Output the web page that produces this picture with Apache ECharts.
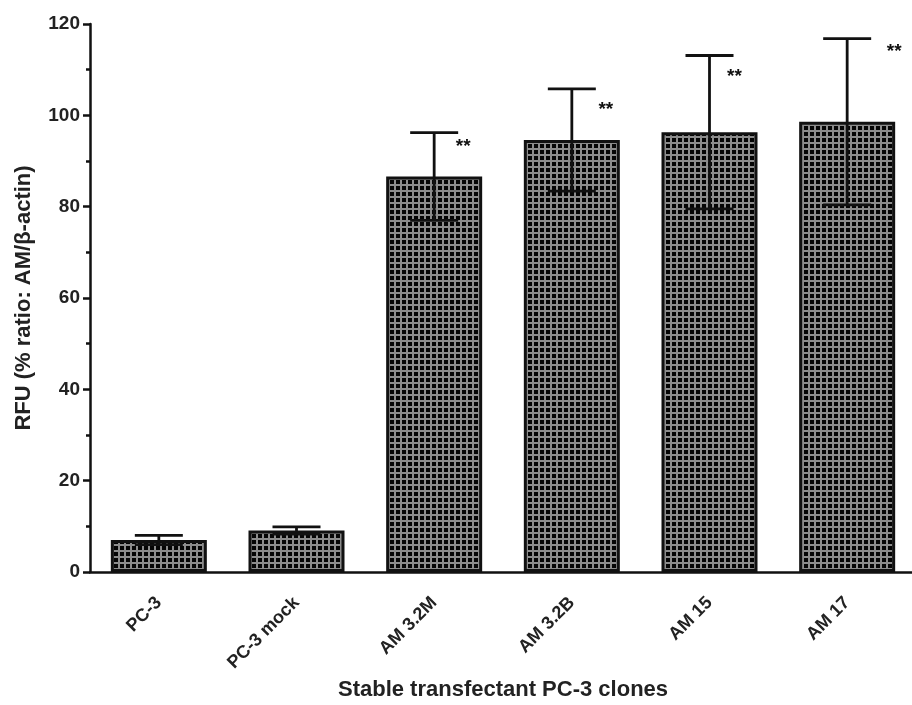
<!DOCTYPE html>
<html><head><meta charset="utf-8">
<script src="https://cdn.jsdelivr.net/npm/echarts@6/dist/echarts.min.js"></script>
<style>html,body{margin:0;padding:0;background:#fff}#c{width:912px;height:705px}</style>
</head><body><div id="c"></div>
<script>
var categories = ['PC-3', 'PC-3 mock', 'AM 3.2M', 'AM 3.2B', 'AM 15', 'AM 17'];
var means = [7.0, 9.1, 86.6, 94.6, 96.3, 98.6];
var errors = [1.0, 0.8, 9.6, 11.2, 16.8, 18.2];
var starLabels = ['', '', '**', '**', '**', '**'];
var starValues = [null, null, 93.1, 101.2, 108.4, 113.9];
var starOffsets = [0, 0, 29, 34, 25, 47];
var yTicks = [0, 20, 40, 60, 80, 100, 120];

var pc = document.createElement('canvas');
pc.width = 6; pc.height = 6;
var g = pc.getContext('2d');
g.fillStyle = '#8c8c8c'; g.fillRect(0, 0, 6, 6);
g.fillStyle = '#050505'; g.fillRect(0, 0, 4, 4);

var errData = categories.map(function (c, i) { return [i, means[i] - errors[i], means[i] + errors[i]]; });
var starData = categories.map(function (c, i) { return [i, starValues[i], starOffsets[i], starLabels[i]]; }).filter(function (d) { return d[3]; });

var font = '"Liberation Sans", Arial, sans-serif';
var chart = echarts.init(document.getElementById('c'), null, {renderer: 'canvas'});
chart.setOption({
  animation: false,
  grid: {left: 90, top: 24, width: 826, bottom: 133, containLabel: false, outerBoundsMode: 'none'},
  xAxis: {
    type: 'category', data: categories,
    name: 'Stable transfectant PC-3 clones', nameLocation: 'middle', nameGap: 107,
    nameTextStyle: {fontFamily: font, fontWeight: 'bold', fontSize: 22, color: '#222'},
    axisLine: {lineStyle: {color: '#111', width: 2.5}},
    axisTick: {alignWithLabel: true, length: 9, lineStyle: {color: '#111', width: 2.5}},
    axisLabel: {rotate: 45, margin: 28, fontFamily: font, fontWeight: 'bold', fontSize: 18, color: '#222'}
  },
  yAxis: {
    type: 'value', min: 0, max: 120, interval: 20,
    name: 'RFU (% ratio: AM/β-actin)', nameLocation: 'middle', nameGap: 55,
    nameTextStyle: {fontFamily: font, fontWeight: 'bold', fontSize: 22, color: '#222'},
    axisLine: {show: true, lineStyle: {color: '#111', width: 2.5}},
    axisTick: {show: true, length: 7, lineStyle: {color: '#111', width: 2.5}},
    minorTick: {show: true, splitNumber: 2, length: 4, lineStyle: {color: '#111', width: 2.5}},
    splitLine: {show: false},
    axisLabel: {margin: 10, fontFamily: font, fontWeight: 'bold', fontSize: 19, color: '#222',
      formatter: function (v) { return yTicks.indexOf(v) >= 0 ? String(v) : ''; }}
  },
  series: [{
    type: 'bar', data: means, barWidth: 96,
    itemStyle: {color: {image: pc, repetition: 'repeat'}, borderColor: '#111', borderWidth: 3}
  }, {
    type: 'custom', data: errData, z: 5,
    renderItem: function (params, api) {
      var x = api.value(0);
      var lo = api.coord([x, api.value(1)]);
      var hi = api.coord([x, api.value(2)]);
      var hw = 24;
      var st = {stroke: '#111', lineWidth: 2.8};
      return {type: 'group', children: [
        {type: 'line', shape: {x1: lo[0], y1: lo[1], x2: hi[0], y2: hi[1]}, style: st},
        {type: 'line', shape: {x1: hi[0] - hw, y1: hi[1], x2: hi[0] + hw, y2: hi[1]}, style: st},
        {type: 'line', shape: {x1: lo[0] - hw, y1: lo[1], x2: lo[0] + hw, y2: lo[1]}, style: st}
      ]};
    }
  }, {
    type: 'custom', data: starData, z: 6,
    renderItem: function (params, api) {
      var p = api.coord([api.value(0), api.value(1)]);
      return {type: 'text', x: p[0] + api.value(2), y: p[1],
        style: {text: starLabels[api.value(0)], fontFamily: font, fontWeight: 'bold', fontSize: 19, fill: '#111',
          align: 'center', verticalAlign: 'middle'}};
    }
  }]
});
</script></body></html>
